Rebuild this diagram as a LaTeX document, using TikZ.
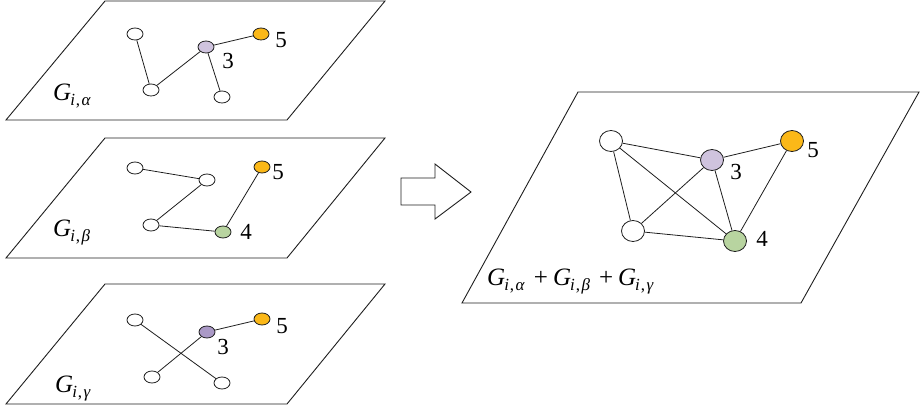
\documentclass[tikz,border=0pt]{standalone}
\usepackage{fontspec}
\setmainfont{Liberation Serif}
\newfontfamily\timesf{Liberation Serif}
\usepackage{tikz}
\usetikzlibrary{shapes.geometric}
\usepackage{xcolor}
\definecolor{ink}{RGB}{30,30,30}
\definecolor{lilac}{RGB}{207,195,222}
\definecolor{mauve}{RGB}{170,153,198}
\definecolor{amber}{RGB}{251,184,24}
\definecolor{sage}{RGB}{184,212,160}
\tikzset{
  plane/.style={draw=ink,line width=0.9pt,line join=miter},
  vtx/.style={ellipse,draw=ink,fill=white,line width=0.8pt,minimum width=16pt,minimum height=12pt,inner sep=0pt},
  bvtx/.style={vtx,minimum width=23pt,minimum height=21pt},
  edg/.style={draw=ink,line width=0.8pt},
  num/.style={font=\timesf\fontsize{23}{25}\selectfont,inner sep=0pt},
  lbl/.style={font=\timesf\fontsize{25}{27}\selectfont,inner sep=0pt,anchor=base west},
}
\newcommand{\Gsub}[1]{\textit{G}\kern-1pt\raisebox{-5pt}{\fontsize{17}{18}\selectfont\textit{i}\kern1pt,\kern1.5pt\textit{#1}}}
\newcommand{\plus}{\hspace{9pt}+\hspace{5pt}}

\begin{document}
\begin{tikzpicture}[x=1pt,y=-1pt]
\useasboundingbox (0,0) rectangle (923,411);
% layer alpha
\begin{scope}
  \draw[plane] (105,1) -- (385,1) -- (287,120) -- (6,120) -- cycle;
  \node[vtx] (a1) at (135,34) {};
  \node[vtx] (b1) at (151,90) {};
  \node[vtx,fill=lilac] (c1) at (206,47) {};
  \node[vtx,fill=amber] (d1) at (261,34) {};
  \node[vtx] (e1) at (222,97) {};
  \draw[edg] (a1)--(b1); \draw[edg] (b1)--(c1);
  \draw[edg] (c1)--(d1); \draw[edg] (c1)--(e1);
  \node[num] (n3a) at (228,61) {3};
  \node[num] (n5a) at (281,40) {5};
  \node[lbl] (ga) at (53,101) {\Gsub{α}};
\end{scope}
% layer beta
\begin{scope}
  \draw[plane] (105,138) -- (385,138) -- (287,258) -- (6,258) -- cycle;
  \node[vtx] (a2) at (135,168) {};
  \node[vtx] (b2) at (207,180) {};
  \node[vtx] (c2) at (151,225) {};
  \node[vtx,fill=sage] (d2) at (223,232) {};
  \node[vtx,fill=amber] (e2) at (262,167) {};
  \draw[edg] (a2)--(b2); \draw[edg] (b2)--(c2);
  \draw[edg] (c2)--(d2); \draw[edg] (d2)--(e2);
  \node[num] (n5b) at (278,172) {5};
  \node[num] (n4b) at (246,232) {4};
  \node[lbl] (gb) at (53,237) {\Gsub{β}};
\end{scope}
% layer gamma
\begin{scope}
  \draw[plane] (105,284) -- (385,284) -- (287,404) -- (6,404) -- cycle;
  \node[vtx] (a3) at (135,320) {};
  \node[vtx,fill=mauve] (b3) at (207,332) {};
  \node[vtx,fill=amber] (c3) at (262,319) {};
  \node[vtx] (d3) at (152,377) {};
  \node[vtx] (e3) at (222,383) {};
  \draw[edg] (a3)--(e3); \draw[edg] (d3)--(b3); \draw[edg] (b3)--(c3);
  \node[num] (n3c) at (223,347) {3};
  \node[num] (n5c) at (282,326) {5};
  \node[lbl] (gc) at (55,392) {\Gsub{γ}};
\end{scope}
% merge arrow
\draw[plane,fill=white] (401,178) -- (435,178) -- (435,164) -- (471,192)
  -- (435,219) -- (435,205) -- (401,205) -- cycle;
% merged graph
\begin{scope}
  \draw[plane] (578,92) -- (919,92) -- (801,303) -- (462,303) -- cycle;
  \node[bvtx] (ma) at (611,141) {};
  \node[bvtx,fill=lilac] (mb) at (712,160) {};
  \node[bvtx,fill=amber] (mc) at (792,141) {};
  \node[bvtx] (md) at (633,231) {};
  \node[bvtx,fill=sage] (me) at (735,241) {};
  \foreach \u/\v in {ma/mb,ma/md,ma/me,mb/mc,mb/md,mb/me,mc/me,md/me}
    \draw[edg] (\u)--(\v);
  \node[num] (n3m) at (736,172) {3};
  \node[num] (n5m) at (813,150) {5};
  \node[num] (n4m) at (762,239) {4};
  \node[lbl] (gm) at (487,286) {\Gsub{α}\plus\Gsub{β}\plus\Gsub{γ}};
\end{scope}
\end{tikzpicture}
\end{document}
